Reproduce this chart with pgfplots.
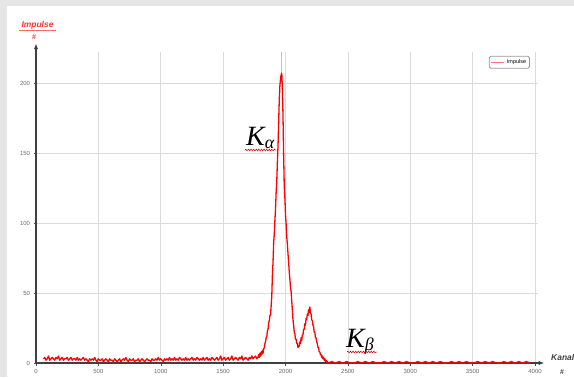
\documentclass[border=0pt]{standalone}
\usepackage{pgfplots}
\pgfplotsset{compat=1.18}
\usepackage{fontspec}
\setmainfont{Liberation Sans}
\newfontfamily\seriffont{Liberation Serif}
\usetikzlibrary{arrows.meta,decorations.pathmorphing}
\definecolor{spec}{RGB}{255,0,0}
\definecolor{tickgray}{RGB}{105,105,105}
\begin{document}
\begin{tikzpicture}[x=1bp,y=1bp]
\useasboundingbox (0,0) rectangle (574,377);
% panel background
\fill[gray!20] (0,0) rectangle (574,377);
\fill[white] (7,0) rectangle (574,371);
\begin{axis}[
  at={(36bp,14bp)}, anchor=south west,
  scale only axis, width=501.5bp, height=310.8bp,
  xmin=0, xmax=4020, ymin=0, ymax=222,
  axis x line=bottom, axis y line=left,
  axis line style={line width=1.6bp, draw=black!75},
  every outer x axis line/.append style={-{Latex[length=6bp,width=4.5bp]}, shorten >=-7bp},
  every outer y axis line/.append style={-{Latex[length=6bp,width=4.5bp]}, shorten >=-9bp},
  xtick={0,500,...,4000}, ytick={0,50,...,200},
  tick align=outside, major tick length=2.5bp,
  tick style={black!70, line width=0.5bp},
  minor tick num=0,
  grid=major, major grid style={draw=gray!28, line width=0.6bp},
  /pgf/number format/assume math mode=true,
  /pgf/number format/set thousands separator={},
  ticklabel style={font=\fontsize{6}{7}\selectfont, text=tickgray},
  xticklabel style={yshift=-0.5bp},
  legend style={at={(0.985,0.988)}, anchor=north east, draw=gray!80,
    rounded corners=1.5bp, font=\fontsize{5.5}{6}\selectfont,
    inner xsep=1.5bp, inner ysep=1.2bp, line width=0.8bp},
  legend image code/.code={\draw[spec!55, line width=1.2bp] (0bp,0bp) -- (13bp,0bp);},
]
% single-channel spike at the K-alpha maximum
\addplot[spec!35, line width=0.7bp, forget plot] coordinates {(1968,207) (1968,222)};
\addplot[spec, line width=1.3bp, line join=round] coordinates {
(60,3) (70,4) (80,2) (90,3) (100,5) (110,2) (120,3) (130,4) (140,3) (150,2)
(160,4) (170,3) (180,5) (190,2) (200,3) (210,4) (220,2) (230,3) (240,3) (250,4)
(260,2) (270,3) (280,4) (290,2) (300,3) (310,3) (320,2) (330,4) (340,2) (350,3)
(360,2) (370,3) (380,4) (390,2) (400,3) (410,2) (420,1) (430,3) (440,2) (450,3)
(460,2) (470,4) (480,2) (490,1) (500,3) (510,2) (520,2) (530,3) (540,1) (550,2)
(560,3) (570,2) (580,1) (590,3) (600,2) (610,2) (620,1) (630,3) (640,2) (650,1)
(660,2) (670,3) (680,1) (690,2) (700,3) (710,2) (720,4) (730,2) (740,1) (750,3)
(760,2) (770,2) (780,3) (790,1) (800,2) (810,2) (820,3) (830,1) (840,2) (850,3)
(860,2) (870,1) (880,2) (890,3) (900,2) (910,2) (920,1) (930,3) (940,2) (950,2)
(960,3) (970,2) (980,4) (990,2) (1000,3) (1010,2) (1020,1) (1030,3) (1040,2) (1050,3)
(1060,2) (1070,4) (1080,2) (1090,3) (1100,2) (1110,4) (1120,2) (1130,3) (1140,2) (1150,4)
(1160,3) (1170,2) (1180,3) (1190,2) (1200,4) (1210,2) (1220,3) (1230,2) (1240,3) (1250,4)
(1260,2) (1270,3) (1280,2) (1290,4) (1300,3) (1310,2) (1320,3) (1330,2) (1340,4) (1350,2)
(1360,3) (1370,4) (1380,2) (1390,3) (1400,2) (1410,4) (1420,3) (1430,2) (1440,3) (1450,4)
(1460,2) (1470,3) (1480,5) (1490,2) (1500,3) (1510,4) (1520,2) (1530,3) (1540,4) (1550,2)
(1560,3) (1570,5) (1580,2) (1590,3) (1600,4) (1610,3) (1620,2) (1630,4) (1640,3) (1650,5)
(1660,2) (1670,3) (1680,4) (1690,3) (1700,2) (1710,4) (1720,3) (1730,5) (1740,3) (1750,4)
(1760,5) (1770,3)
(1780,4) (1785,6) (1790,4) (1795,7) (1800,5) (1805,8) (1810,6) (1815,9) (1820,7) (1825,10)
(1830,11) (1835,14) (1840,15) (1845,18) (1850,19) (1855,23) (1860,24) (1865,29) (1870,30) (1875,34)
(1880,34) (1885,41) (1890,48) (1895,63) (1900,72) (1905,86) (1910,92) (1915,102) (1920,110) (1925,122)
(1930,130) (1935,144) (1940,155) (1945,172) (1950,188) (1955,198) (1960,203) (1965,206) (1970,207) (1975,196)
(1980,176) (1985,148) (1990,126) (1995,118) (2000,106) (2005,99) (2010,90) (2015,85) (2020,78) (2025,72)
(2030,65) (2035,60) (2040,54) (2045,51) (2050,44) (2055,38) (2060,31) (2065,27) (2070,22) (2075,21)
(2080,17) (2085,17) (2090,14) (2095,14) (2100,11) (2105,12) (2110,12) (2115,15) (2120,14) (2125,18)
(2130,16) (2135,20) (2140,20) (2145,24) (2150,24) (2155,28) (2160,27) (2165,32) (2170,31) (2175,35)
(2180,34) (2185,38) (2190,36) (2195,40) (2200,36) (2205,35) (2210,31) (2215,30) (2220,27) (2225,26)
(2230,22) (2235,22) (2240,18) (2245,18) (2250,15) (2255,14) (2260,11) (2265,11) (2270,8) (2275,8)
(2280,6) (2285,6) (2290,4) (2295,5) (2300,3) (2305,4) (2310,2) (2315,3) (2320,1) (2325,2)
(2330,1) (2335,1) (2340,0)
(2370,1) (2400,0) (2430,1) (2460,0) (2490,1) (2520,0) (2550,0) (2580,1) (2610,0) (2640,1)
(2670,0) (2700,1) (2730,0) (2760,0) (2790,1) (2820,0) (2850,1) (2880,0) (2910,1) (2940,0)
(2970,1) (3000,0) (3030,0) (3060,1) (3090,0) (3120,1) (3150,0) (3180,1) (3210,0) (3240,1)
(3270,0) (3300,0) (3330,1) (3360,0) (3390,1) (3420,0) (3450,1) (3480,0) (3510,0) (3540,1)
(3570,0) (3600,1) (3630,0) (3660,1) (3690,0) (3720,0) (3750,1) (3780,0) (3810,1) (3840,0)
(3870,1) (3900,0) (3930,1) (3960,0)
};
\addlegendentry{Impulse}
\end{axis}
% axis titles
\node[font=\fontsize{8.5}{9}\selectfont\bfseries\itshape, text=spec!80, inner sep=0] at (37.5,352) {Impulse};
\draw[spec!60, line width=0.5bp] (19,346.5) -- (56,346.5);
\node[font=\fontsize{7}{8}\selectfont\bfseries, text=spec!80, inner sep=0] at (34,340) {\#};
\node[font=\fontsize{8.5}{9}\selectfont\bfseries\itshape, text=black!75, anchor=west, inner sep=0] at (551,20) {Kanal};
\node[font=\fontsize{7}{8}\selectfont\bfseries, text=black!75, inner sep=0] at (562,5) {\#};
% line annotations
\node[anchor=base west, inner sep=0, font=\seriffont\itshape\fontsize{28}{28}\selectfont] at (246,232)
  {K\raisebox{-3bp}{\fontsize{18}{18}\selectfont α}};
\draw[red!80!black, line width=0.5bp, decorate, decoration={snake, amplitude=0.9bp, segment length=2.6bp}] (245,227) -- (276,227);
\node[anchor=base west, inner sep=0, font=\seriffont\itshape\fontsize{28}{28}\selectfont] at (346,30)
  {K\raisebox{-3bp}{\fontsize{18}{18}\selectfont β}};
\draw[red!80!black, line width=0.5bp, decorate, decoration={snake, amplitude=0.9bp, segment length=2.6bp}] (347,25) -- (377,25);
\end{tikzpicture}
\end{document}
